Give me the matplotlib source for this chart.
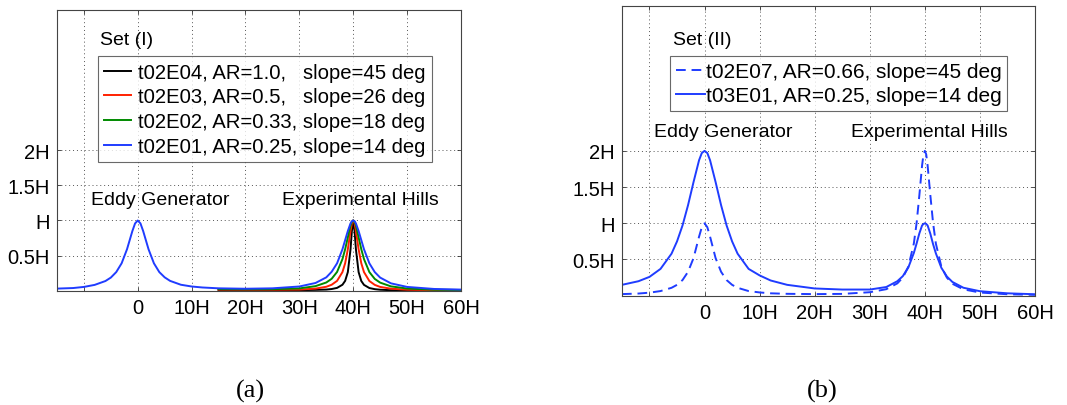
import matplotlib
matplotlib.use("Agg")
import matplotlib.pyplot as plt

plt.rcParams['font.family'] = ['Liberation Sans', 'DejaVu Sans']

x_full = [-15, -12, -10, -8, -6, -5, -4, -3, -2, -1, -0.5, 0, 0.5, 1, 2, 3, 4, 5, 6,
          8, 10, 12, 15, 20, 25, 30, 33, 35, 36, 37, 38, 38.5, 39, 39.5, 39.75, 40,
          40.25, 40.5, 41, 41.5, 42, 43, 44, 45, 47, 50, 55, 60]
x_hill = [15, 20, 25, 30, 33, 35, 36, 37, 38, 38.5, 39, 39.5, 39.75, 40,
          40.25, 40.5, 41, 41.5, 42, 43, 44, 45, 47, 50, 55, 60]

# Set (I)
t02E01 = [0.03, 0.038, 0.054, 0.083, 0.138, 0.187, 0.265, 0.39, 0.59, 0.85, 0.958, 1.0,
          0.958, 0.85, 0.59, 0.39, 0.265, 0.19, 0.14, 0.085, 0.06, 0.046, 0.034, 0.028,
          0.034, 0.06, 0.11, 0.19, 0.27, 0.39, 0.59, 0.72, 0.85, 0.958, 0.99, 1.0,
          0.99, 0.958, 0.85, 0.72, 0.59, 0.39, 0.265, 0.187, 0.105, 0.054, 0.025, 0.016]
t02E02 = [0.022, 0.02, 0.022, 0.033, 0.065, 0.117, 0.17, 0.267, 0.45, 0.59, 0.76, 0.93,
          0.98, 1.0, 0.98, 0.93, 0.76, 0.59, 0.45, 0.265, 0.168, 0.115, 0.062, 0.031,
          0.014, 0.01]
t02E03 = [0.015, 0.014, 0.014, 0.016, 0.03, 0.056, 0.085, 0.14, 0.265, 0.39, 0.59, 0.85,
          0.96, 1.0, 0.96, 0.85, 0.59, 0.39, 0.265, 0.138, 0.083, 0.054, 0.029, 0.014,
          0.008, 0.006]
t02E04 = [0.01, 0.009, 0.008, 0.008, 0.012, 0.016, 0.024, 0.04, 0.085, 0.14, 0.265, 0.59,
          0.85, 1.0, 0.85, 0.59, 0.265, 0.138, 0.083, 0.038, 0.022, 0.014, 0.007, 0.004,
          0.003, 0.003]

# Set (II)
t02E07 = [0.022, 0.03, 0.042, 0.064, 0.109, 0.15, 0.216, 0.33, 0.52, 0.815, 0.946, 1.0,
          0.946, 0.815, 0.52, 0.33, 0.216, 0.15, 0.109, 0.064, 0.045, 0.033, 0.026, 0.022,
          0.025, 0.048, 0.09, 0.17, 0.25, 0.40, 0.72, 1.0, 1.385, 1.8, 1.95, 2.0,
          1.95, 1.8, 1.385, 1.0, 0.72, 0.40, 0.25, 0.165, 0.088, 0.044, 0.02, 0.012]
t03E01 = [0.15, 0.2, 0.26, 0.37, 0.58, 0.75, 0.97, 1.25, 1.57, 1.87, 1.97, 2.0,
          1.97, 1.87, 1.57, 1.25, 0.97, 0.75, 0.58, 0.37, 0.28, 0.21, 0.15, 0.1,
          0.085, 0.085, 0.12, 0.2, 0.27, 0.39, 0.59, 0.72, 0.86, 0.97, 0.99, 1.0,
          0.99, 0.97, 0.855, 0.71, 0.585, 0.385, 0.265, 0.19, 0.11, 0.062, 0.033, 0.02]

xticks = [-10, 0, 10, 20, 30, 40, 50, 60]
xticklabels = ['', '0', '10H', '20H', '30H', '40H', '50H', '60H']
yticks = [0.5, 1, 1.5, 2]
yticklabels = ['0.5H', 'H', '1.5H', '2H']

fig = plt.figure(figsize=(10.67, 4.06), dpi=100)
ax1 = fig.add_axes([0.0534, 0.2815, 0.3786, 0.692])
ax2 = fig.add_axes([0.5829, 0.2692, 0.3871, 0.7136])

blue = '#1f3cff'


def style(ax):
    ax.set_xlim(-15, 60)
    ax.set_ylim(0, 4)
    ax.set_xticks(xticks)
    ax.set_xticklabels(xticklabels)
    ax.set_yticks(yticks)
    ax.set_yticklabels(yticklabels)
    ax.tick_params(direction='in', length=3, width=0.6, top=True, right=True,
                   labelsize=14.5, pad=5, colors='#333333', labelcolor='black')
    ax.grid(True, linestyle=(0, (1, 3)), color='#555555', linewidth=0.7)
    for s in ax.spines.values():
        s.set_color('#444444')
        s.set_linewidth(0.8)


# (a)
style(ax1)
ax1.plot(x_hill, t02E04, color='black', lw=1.4, label='t02E04, AR=1.0,   slope=45 deg')
ax1.plot(x_hill, t02E03, color='#ff2000', lw=1.4, label='t02E03, AR=0.5,   slope=26 deg')
ax1.plot(x_hill, t02E02, color='#008a00', lw=1.4, label='t02E02, AR=0.33, slope=18 deg')
ax1.plot(x_full, t02E01, color=blue, lw=1.4, label='t02E01, AR=0.25, slope=14 deg')
leg = ax1.legend(loc='upper left', bbox_to_anchor=(0.101, 0.835), fontsize=14.6,
                 frameon=True, fancybox=False, edgecolor='#444444', handlelength=1.3,
                 handletextpad=0.35, borderpad=0.32, labelspacing=0.28, borderaxespad=0)
leg.get_frame().set_linewidth(0.8)
ax1.text(-7.0, 3.58, 'Set (I)', fontsize=14, va='center', ha='left')
ax1.text(4.1, 1.3, 'Eddy Generator', fontsize=14, va='center', ha='center')
ax1.text(41.3, 1.3, 'Experimental Hills', fontsize=14, va='center', ha='center')

# (b)
style(ax2)
ax2.plot(x_full, t02E07, color=blue, lw=1.4, linestyle=(0, (5, 3)),
         label='t02E07, AR=0.66, slope=45 deg')
ax2.plot(x_full, t03E01, color=blue, lw=1.4, label='t03E01, AR=0.25, slope=14 deg')
leg2 = ax2.legend(loc='upper left', bbox_to_anchor=(0.116, 0.827), fontsize=15,
                  frameon=True, fancybox=False, edgecolor='#444444', handlelength=1.4,
                  handletextpad=0.05, borderpad=0.28, labelspacing=0.25, borderaxespad=0)
leg2.get_frame().set_linewidth(0.8)
ax2.text(-5.8, 3.54, 'Set (II)', fontsize=14, va='center', ha='left')
ax2.text(3.4, 2.27, 'Eddy Generator', fontsize=14, va='center', ha='center')
ax2.text(40.9, 2.27, 'Experimental Hills', fontsize=14, va='center', ha='center')

fig.text(0.235, 0.037, '(a)', fontsize=19, family='Liberation Serif', ha='center', va='center')
fig.text(0.771, 0.037, '(b)', fontsize=19, family='Liberation Serif', ha='center', va='center')

fig.savefig('out.png', dpi=100)
